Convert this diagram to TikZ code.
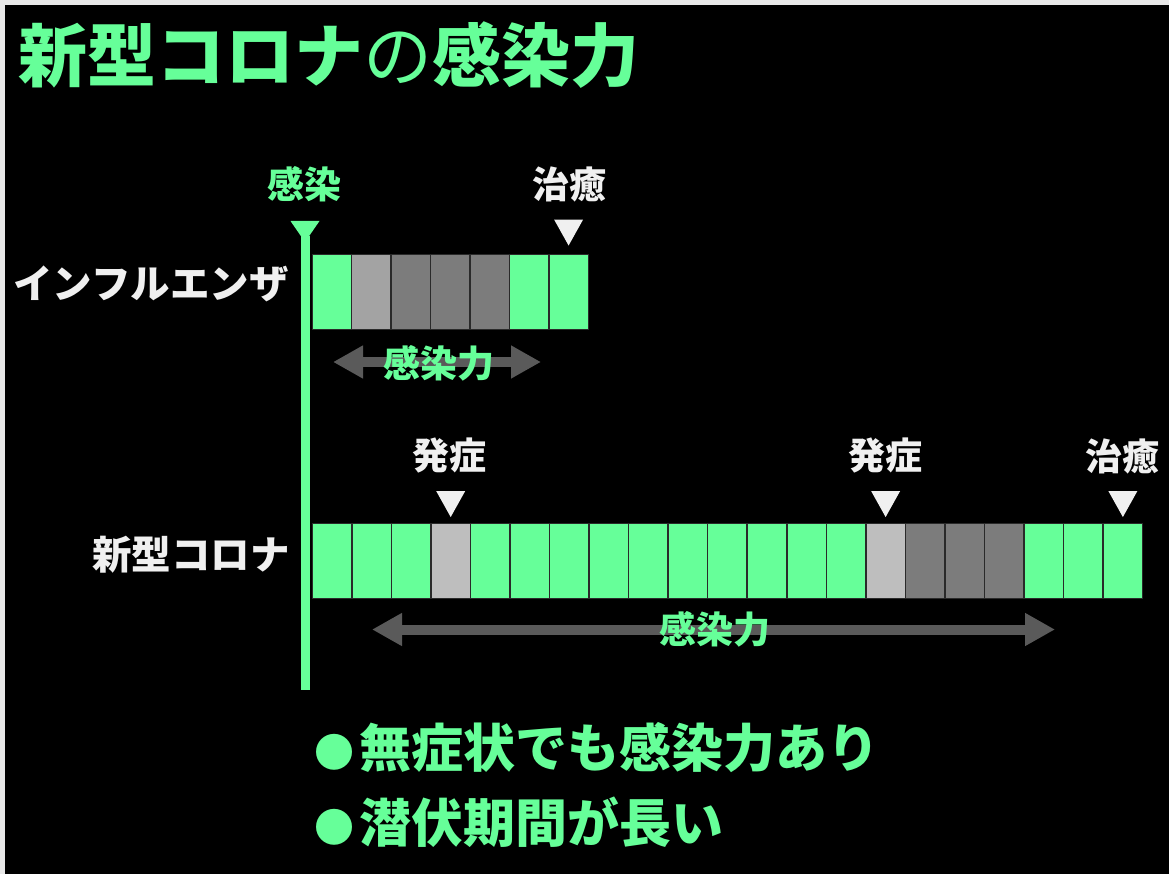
\documentclass[tikz,border=0pt]{standalone}
\usepackage{fontspec}
\setmainfont{Noto Sans CJK JP}
\usetikzlibrary{arrows.meta,calc}
\definecolor{hl}{HTML}{66FF99}
\definecolor{offw}{HTML}{F0F0F0}
\definecolor{lgA}{HTML}{A3A3A3}
\definecolor{lgB}{HTML}{BEBEBE}
\definecolor{dg}{HTML}{7C7C7C}
\definecolor{arrg}{HTML}{5A5A5A}
\definecolor{cellline}{HTML}{2A2A2A}
\definecolor{frame}{HTML}{E8E8E8}
\newcommand{\dotmark}{{\fontsize{40}{44}\selectfont ●}\hspace{5pt}}
\begin{document}
\begin{tikzpicture}[x=1pt,y=-1pt,
  cell/.style={rectangle,minimum width=39.5pt,minimum height=75pt,inner sep=0pt,draw=cellline,line width=1.5pt},
  cG/.style={cell,fill=hl},
  cL/.style={cell,fill=lgA},
  cM/.style={cell,fill=lgB},
  cD/.style={cell,fill=dg},
  evlabel/.style={inner sep=0pt,text=offw,font=\fontsize{37}{40}\selectfont\bfseries},
  rowlabel/.style={inner sep=0pt,anchor=east,text=offw,font=\fontsize{39.5}{44}\selectfont\bfseries},
  spanlabel/.style={inner sep=0pt,text=hl,font=\fontsize{37}{40}\selectfont\bfseries},
  spanarrow/.style={draw=arrg,line width=10pt,{Triangle[length=30pt,width=31pt]}-{Triangle[length=30pt,width=31pt]}},
  bullet/.style={inner sep=0pt,anchor=west,text=hl,font=\fontsize{52}{56}\selectfont\bfseries},
  downtri/.pic={\fill[offw] (-14.5,-26) -- (14.5,-26) -- (0,0) -- cycle;}
]
\useasboundingbox (0,0) rectangle (1169,874);
\fill[frame] (0,0) rectangle (1169,874);
\fill[black] (5,5) rectangle (1169,874);

% title
\node[inner sep=0pt,anchor=west,text=hl,font=\fontsize{69}{72}\selectfont\bfseries] (title) at (18,55) {新型コロナ{\mdseries の}感染力};

% infection axis
\coordinate (axtop) at (305,236);
\coordinate (axbot) at (305,690);
\draw[hl,line width=9pt] (axtop) -- (axbot);
\fill[hl] (290.5,221) -- (319.5,221) -- (305,242) -- cycle;
\node[spanlabel] (kansen) at (304,184) {感染};

% influenza row
\foreach \s [count=\i] in {cG,cL,cD,cD,cD,cG,cG}
  \node[\s] (i\i) at ({312.3+39.43*(\i-0.5)},291.8) {};
\node[rowlabel] (inflabel) at (289,284) {インフルエンザ};
\pic at ($(i7.north)+(0,-8)$) {downtri};
\node[evlabel] (icure) at (569,184) {治癒};
\coordinate (ial) at (333,362);
\coordinate (iar) at (541,362);
\draw[spanarrow] (ial) -- (iar);
\node[spanlabel] (ispan) at (439,363) {感染力};

% corona row
\foreach \s [count=\i] in {cG,cG,cG,cM,cG,cG,cG,cG,cG,cG,cG,cG,cG,cG,cM,cD,cD,cD,cG,cG,cG}
  \node[\s] (c\i) at ({312.3+39.54*(\i-0.5)},560.8) {};
\node[rowlabel] (covlabel) at (290,555) {新型コロナ};
\pic at ($(c4.north)+(0,-5.5)$) {downtri};
\pic at ($(c15.north)+(0,-5.5)$) {downtri};
\pic at ($(c21.north)+(0,-5.5)$) {downtri};
\node[evlabel] (cons1) at (449,456) {発症};
\node[evlabel] (cons2) at (885.5,456) {発症};
\node[evlabel] (ccure) at (1122.5,456) {治癒};
\coordinate (cal) at (372,629.5);
\coordinate (car) at (1055,629.5);
\draw[spanarrow] (cal) -- (car);
\node[spanlabel] (cspan) at (715,629.5) {感染力};

% bullets
\node[bullet] (b1) at (314,748) {\dotmark 無症状でも感染力あり};
\node[bullet] (b2) at (314,822) {\dotmark 潜伏期間が長い};
\end{tikzpicture}
\end{document}
